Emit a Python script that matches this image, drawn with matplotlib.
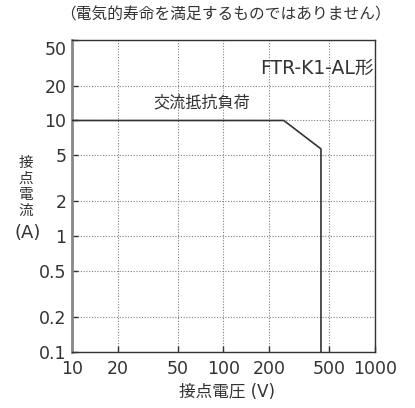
import matplotlib.pyplot as plt
from matplotlib.ticker import FixedLocator, NullLocator, FixedFormatter
from matplotlib.transforms import ScaledTranslation

plt.rcParams['font.family'] = ['DejaVu Sans', 'Noto Sans CJK JP']

# load curve (AC resistive load)
voltage = [10, 250, 440, 440]
current = [10, 10, 5.68, 0.1]

x_ticks = [10, 20, 50, 100, 200, 500, 1000]
x_labels = ['10', '20', '50', '100', '200', '500', '1000']
y_ticks = [0.1, 0.2, 0.5, 1, 2, 5, 10, 20, 50]
y_labels = ['0.1', '0.2', '0.5', '1', '2', '5', '10', '20', '50']

txt = '#333333'
cjk = ['Noto Sans CJK JP', 'DejaVu Sans']

fig = plt.figure(figsize=(4.15, 4.08), dpi=100)
ax = fig.add_axes([0.1735, 0.1373, 0.7301, 0.7657])

ax.set_xscale('log')
ax.set_yscale('log')
ax.set_xlim(10, 1000)
ax.set_ylim(0.1, 50)

ax.plot(voltage, current, color='#333333', lw=1.2, zorder=3)

ax.xaxis.set_major_locator(FixedLocator(x_ticks))
ax.xaxis.set_major_formatter(FixedFormatter(x_labels))
ax.xaxis.set_minor_locator(NullLocator())
ax.yaxis.set_major_locator(FixedLocator(y_ticks))
ax.yaxis.set_major_formatter(FixedFormatter(y_labels))
ax.yaxis.set_minor_locator(NullLocator())

ax.grid(True, which='major', color='#808080', ls=(0, (1, 1.5)), lw=0.8)
ax.tick_params(axis='both', direction='in', length=4, width=1, color='#333333',
               labelsize=12.5, labelcolor=txt)
ax.tick_params(axis='x', pad=6)
ax.tick_params(axis='y', pad=4)

# top y label sits a little lower than the frame edge
fig.canvas.draw()
ax.get_yticklabels()[-1].set_transform(
    ax.get_yticklabels()[-1].get_transform() + ScaledTranslation(0, -0.08, fig.dpi_scale_trans))

for side in ['top', 'right', 'bottom']:
    ax.spines[side].set_color('#333333')
    ax.spines[side].set_linewidth(1.0)
ax.spines['left'].set_color('#888888')
ax.spines['left'].set_linewidth(2.0)

fig.text(0.543, 0.963, '（電気的寿命を満足するものではありません）', ha='center', va='center',
         fontsize=11.3, color=txt, family=cjk)
fig.text(0.487, 0.748, '交流抵抗負荷', ha='center', va='center',
         fontsize=11.6, color=txt, family=cjk)
fig.text(0.9, 0.833, 'FTR-K1-AL形', ha='right', va='center', fontsize=13.5, color=txt,
         family=cjk[::-1])

# vertical y label, one character per line
for ch, yy in zip('接点電流', [163, 179, 195, 211]):
    fig.text(26 / 415, 1 - yy / 408, ch, ha='center', va='center', fontsize=10.5,
             color=txt, family=cjk)
fig.text(0.067, 0.429, '(A)', ha='center', va='center', fontsize=13, color=txt)
fig.text(0.547, 0.039, '接点電圧 (V)', ha='center', va='center', fontsize=12,
         color=txt, family=cjk[::-1])

fig.savefig('out.png', dpi=100)
